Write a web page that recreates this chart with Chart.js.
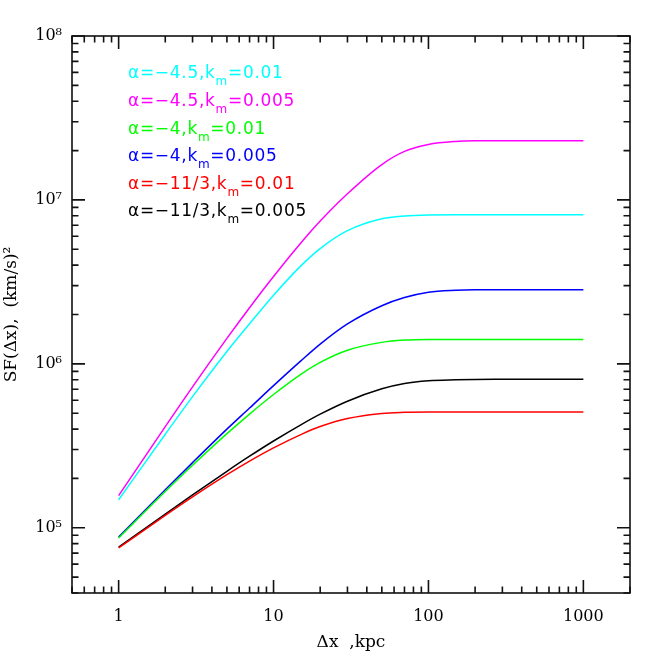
<!DOCTYPE html>
<html>
<head>
<meta charset="utf-8">
<script src="https://cdn.jsdelivr.net/npm/chart.js@4.4.0/dist/chart.umd.min.js"></script>
<style>
  html, body { margin: 0; padding: 0; background: #fff; }
  #wrap { width: 664px; height: 664px; }
</style>
</head>
<body>
<div id="wrap"><canvas id="sfChart" width="664" height="664"></canvas></div>
<script>
// separation, kpc
const dx = [1, 2, 3, 5, 7, 10, 15, 20, 30, 50, 70, 100, 150, 200, 300, 500, 1000];

// structure function values, (km/s)^2
const sfA45k010 = [1.483e5, 3.72e5, 6.31e5, 1.189e6, 1.754e6, 2.62e6, 3.96e6, 5.05e6, 6.49e6, 7.67e6, 7.98e6, 8.09e6, 8.11e6, 8.11e6, 8.11e6, 8.11e6, 8.11e6];
const sfA45k005 = [1.57e5, 4.14e5, 7.24e5, 1.429e6, 2.20e6, 3.41e6, 5.46e6, 7.43e6, 1.091e7, 1.644e7, 1.977e7, 2.18e7, 2.275e7, 2.296e7, 2.30e7, 2.30e7, 2.30e7];
const sfA4k010 = [8.67e4, 1.663e5, 2.404e5, 3.75e5, 4.94e5, 6.50e5, 8.63e5, 1.021e6, 1.211e6, 1.352e6, 1.396e6, 1.409e6, 1.41e6, 1.41e6, 1.41e6, 1.41e6, 1.41e6];
const sfA4k005 = [8.77e4, 1.706e5, 2.498e5, 3.998e5, 5.373e5, 7.36e5, 1.042e6, 1.32e6, 1.753e6, 2.263e6, 2.537e6, 2.735e6, 2.813e6, 2.833e6, 2.835e6, 2.835e6, 2.835e6];
const sfA113k010 = [7.53e4, 1.19e5, 1.543e5, 2.108e5, 2.552e5, 3.073e5, 3.703e5, 4.143e5, 4.64e5, 4.986e5, 5.06e5, 5.08e5, 5.08e5, 5.08e5, 5.08e5, 5.08e5, 5.08e5];
const sfA113k005 = [7.62e4, 1.213e5, 1.585e5, 2.21e5, 2.731e5, 3.383e5, 4.245e5, 4.93e5, 5.916e5, 7.04e5, 7.59e5, 7.89e5, 8.0e5, 8.04e5, 8.05e5, 8.05e5, 8.05e5];

// legend pieces
const alphas = ['\u22124.5', '\u22124.5', '\u22124', '\u22124', '\u221211/3', '\u221211/3'];
const kms = ['0.01', '0.005', '0.01', '0.005', '0.01', '0.005'];
const colors = ['#00ffff', '#ff00ff', '#00ff00', '#0000ff', '#ff0000', '#000000'];
const series = [sfA45k010, sfA45k005, sfA4k010, sfA4k005, sfA113k010, sfA113k005];

// axis ticks
const xTicks = [1, 10, 100, 1000];
const xTickLabels = ['1', '10', '100', '1000'];
const yTicks = [1e5, 1e6, 1e7, 1e8];
const yTickLabels = ['10\u2075', '10\u2076', '10\u2077', '10\u2078'];

const toPoints = (ys) => dx.map((x, i) => ({ x: x, y: ys[i] }));

// frame with inward ticks on all four sides
const frameTicks = {
    id: 'frameTicks',
    afterDatasetsDraw(chart) {
        const { ctx, chartArea: a, scales: { x, y } } = chart;
        ctx.save();
        ctx.strokeStyle = '#111';
        ctx.lineWidth = 1.6;
        ctx.strokeRect(a.left, a.top, a.right - a.left, a.bottom - a.top);
        ctx.beginPath();
        for (let e = -1; e <= 3; e++) {
            for (let m = 1; m <= 9; m++) {
                const v = m * Math.pow(10, e);
                if (v < x.min || v > x.max) continue;
                const px = x.getPixelForValue(v);
                const len = m === 1 ? 13 : 6.5;
                ctx.moveTo(px, a.bottom); ctx.lineTo(px, a.bottom - len);
                ctx.moveTo(px, a.top); ctx.lineTo(px, a.top + len);
            }
        }
        for (let e = 4; e <= 8; e++) {
            for (let m = 1; m <= 9; m++) {
                const v = m * Math.pow(10, e);
                if (v < y.min || v > y.max) continue;
                const py = y.getPixelForValue(v);
                const len = m === 1 ? 13 : 6.5;
                ctx.moveTo(a.left, py); ctx.lineTo(a.left + len, py);
                ctx.moveTo(a.right, py); ctx.lineTo(a.right - len, py);
            }
        }
        ctx.stroke();
        ctx.restore();
    }
};

// text legend in the upper left, with subscript m
const textLegend = {
    id: 'textLegend',
    afterDraw(chart) {
        const ctx = chart.ctx;
        ctx.save();
        ctx.textBaseline = 'alphabetic';
        ctx.textAlign = 'left';
        ctx.letterSpacing = '0.7px';
        alphas.forEach((al, i) => {
            const y0 = 78.3 + 27.6 * i;
            let x0 = 128;
            ctx.fillStyle = colors[i];
            ctx.font = '17px "DejaVu Sans"';
            const head = '\u03b1=' + al + ',k';
            ctx.fillText(head, x0, y0);
            x0 += ctx.measureText(head).width;
            ctx.font = '12px "DejaVu Sans"';
            ctx.fillText('m', x0, y0 + 7);
            x0 += ctx.measureText('m').width;
            ctx.font = '17px "DejaVu Sans"';
            ctx.fillText('=' + kms[i], x0, y0);
        });
        ctx.restore();
    }
};

const config = {
    type: 'line',
    data: {
        datasets: series.map((ys, i) => ({
            label: '\u03b1=' + alphas[i] + ',km=' + kms[i],
            data: toPoints(ys),
            borderColor: colors[i],
            backgroundColor: colors[i],
            borderWidth: 1.5,
            pointRadius: 0,
            cubicInterpolationMode: 'monotone',
            fill: false
        }))
    },
    options: {
        responsive: false,
        animation: false,
        devicePixelRatio: 1,
        layout: { padding: { left: 0, right: 34, top: 36, bottom: 0 } },
        plugins: {
            legend: { display: false },
            tooltip: { enabled: false }
        },
        scales: {
            x: {
                type: 'logarithmic',
                min: 0.5,
                max: 2000,
                grid: { display: false, drawTicks: false },
                border: { display: false },
                afterBuildTicks: (s) => { s.ticks = xTicks.map(v => ({ value: v })); },
                afterFit: (s) => { s.height = 71; },
                ticks: {
                    autoSkip: false,
                    maxRotation: 0,
                    padding: 14,
                    color: '#000',
                    font: { family: 'DejaVu Serif', size: 16 },
                    callback: (v) => xTickLabels[xTicks.indexOf(v)] || ''
                },
                title: {
                    display: true,
                    text: '\u0394x  ,kpc',
                    color: '#000',
                    font: { family: 'DejaVu Serif', size: 17 },
                    padding: { top: 0, bottom: 11 }
                }
            },
            y: {
                type: 'logarithmic',
                min: 4e4,
                max: 1e8,
                grid: { display: false, drawTicks: false },
                border: { display: false },
                afterBuildTicks: (s) => { s.ticks = yTicks.map(v => ({ value: v })); },
                afterFit: (s) => { s.width = 72; },
                ticks: {
                    autoSkip: false,
                    padding: 10,
                    color: '#000',
                    font: { family: 'DejaVu Serif', size: 16 },
                    callback: (v) => yTickLabels[yTicks.indexOf(v)] || ''
                },
                title: {
                    display: true,
                    text: 'SF(\u0394x),  (km/s)\u00b2',
                    color: '#000',
                    font: { family: 'DejaVu Serif', size: 17 },
                    padding: { top: 1, bottom: 0 }
                }
            }
        }
    },
    plugins: [frameTicks, textLegend]
};

function initializeChart() {
    const ctx = document.getElementById('sfChart').getContext('2d');
    new Chart(ctx, config);
}

document.addEventListener('DOMContentLoaded', initializeChart);
</script>
</body>
</html>
